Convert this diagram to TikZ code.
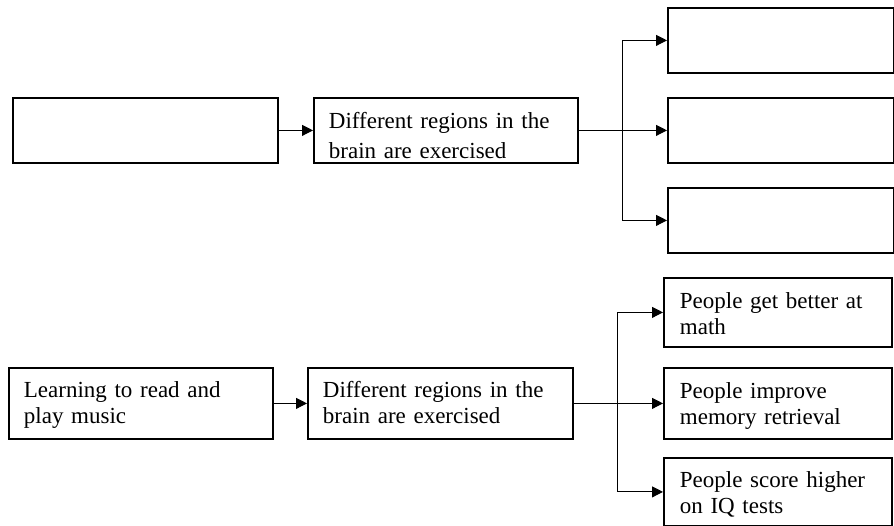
\documentclass[tikz,border=0pt]{standalone}
\usepackage{fontspec}
\setmainfont{Liberation Serif}
\usetikzlibrary{arrows.meta}
\begin{document}
\begin{tikzpicture}[x=1pt,y=-1pt,
  bx/.style={draw=black, line width=1.8pt, anchor=north west, align=left,
    inner ysep=0pt, inner xsep=15pt, font=\fontsize{23pt}{26pt}\selectfont},
  conn/.style={draw=black, line width=1pt},
  arr/.style={conn, -{Triangle[length=11pt,width=11pt]}}]
\useasboundingbox (0,0) rectangle (894,526);
% top row
\node[bx, text width=235pt, text height=31pt, text depth=34pt] (A) at (12,97) {};
\node[bx, text width=234pt, text height=31pt, text depth=34pt] (B) at (313,97)
  {Different regions in the\\[4pt]brain are exercised};
\node[bx, text width=196pt, text height=32pt, text depth=33pt] (T1) at (667,7) {};
\node[bx, text width=196pt, text height=32pt, text depth=33pt] (T2) at (667,97) {};
\node[bx, text width=196pt, text height=32pt, text depth=33pt] (T3) at (667,187) {};
% bottom row
\node[bx, text width=234pt, text height=30pt, text depth=41pt] (C) at (8,367)
  {Learning to read and\\play music};
\node[bx, text width=235pt, text height=30pt, text depth=41pt] (D) at (307,367)
  {Different regions in the\\brain are exercised};
\node[bx, inner xsep=16pt, text width=196pt, text height=31pt, text depth=38pt] (R1) at (663,277)
  {People get better at\\math};
\node[bx, inner xsep=16pt, text width=196pt, text height=31pt, text depth=40pt] (R2) at (663,367)
  {People improve\\memory retrieval};
\node[bx, inner xsep=16pt, text width=196pt, text height=30pt, text depth=38pt] (R3) at (663,457)
  {People score higher\\on IQ tests};
% connectors top
\coordinate (jt) at (622,129.5);
\draw[arr] (A.east) -- (B.west);
\draw[arr] (B.east) -- (T2.west);
\draw[arr] (jt) |- (T1.west);
\draw[arr] (jt) |- (T3.west);
% connectors bottom
\coordinate (jb) at (617,402.5);
\draw[arr] (C.east) -- (D.west);
\draw[arr] (D.east) -- (R2.west);
\draw[arr] (jb) |- (R1.west);
\draw[arr] (jb) |- (R3.west);
\end{tikzpicture}
\end{document}
